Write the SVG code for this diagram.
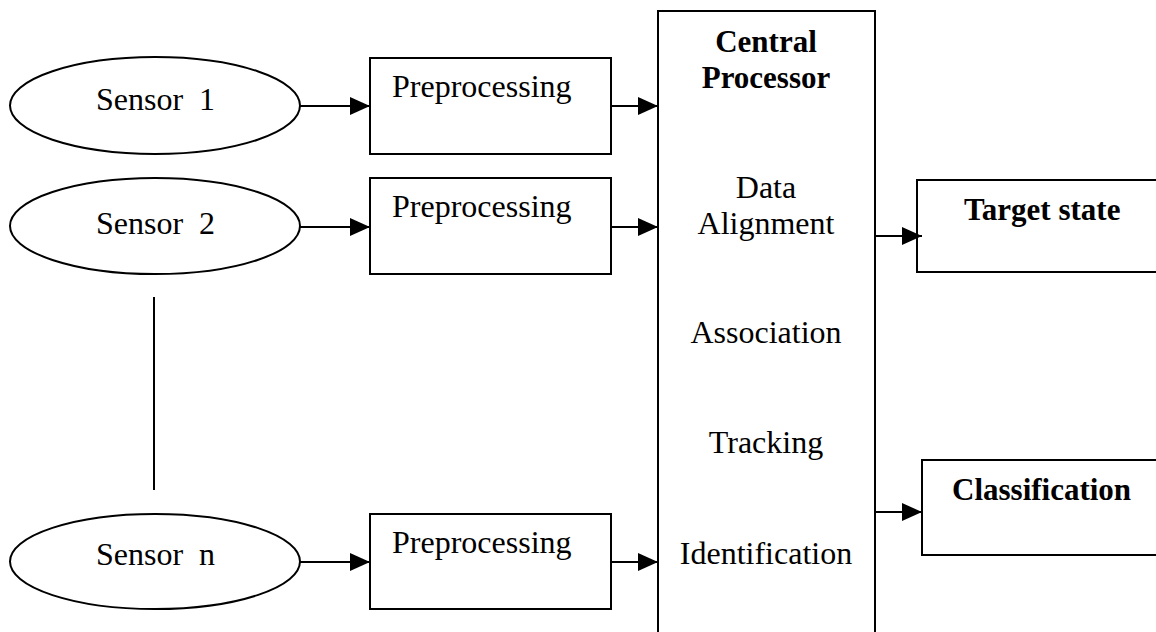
<svg xmlns="http://www.w3.org/2000/svg" width="1156" height="632" viewBox="0 0 1156 632">
  <style>
    .shape { fill: #ffffff; stroke: #000000; stroke-width: 2; }
    .wire { fill: none; stroke: #000000; stroke-width: 2; }
    .lbl { font-family: "Liberation Serif", "Times New Roman", serif; font-size: 32px; fill: #000000; }
    .bold { font-family: "Liberation Serif", "Times New Roman", serif; font-size: 31px; font-weight: bold; fill: #000000; }
    .mid { text-anchor: middle; }
  </style>
  <defs>
    <marker id="arrow" markerWidth="20" markerHeight="18" refX="20" refY="9" orient="auto" markerUnits="userSpaceOnUse">
      <path d="M0,0 L20,9 L0,18 z" fill="#000000"/>
    </marker>
  </defs>
  <rect x="0" y="0" width="1156" height="632" fill="#ffffff"/>

  <!-- sensors -->
  <g id="sensor1">
    <ellipse class="shape" cx="155" cy="105.5" rx="145" ry="48.5"/>
    <text class="lbl" x="96" y="110" xml:space="preserve">Sensor  1</text>
  </g>
  <g id="sensor2">
    <ellipse class="shape" cx="155" cy="226" rx="145" ry="48"/>
    <text class="lbl" x="96" y="234" xml:space="preserve">Sensor  2</text>
  </g>
  <g id="sensorN">
    <ellipse class="shape" cx="155" cy="561.5" rx="145" ry="47.5"/>
    <text class="lbl" x="96" y="565" xml:space="preserve">Sensor  n</text>
  </g>

  <!-- preprocessing stages -->
  <g id="pre1">
    <rect class="shape" x="370" y="58" width="241" height="96"/>
    <text class="lbl" x="392" y="97">Preprocessing</text>
  </g>
  <g id="pre2">
    <rect class="shape" x="370" y="178" width="241" height="96"/>
    <text class="lbl" x="392" y="217">Preprocessing</text>
  </g>
  <g id="preN">
    <rect class="shape" x="370" y="514" width="241" height="95"/>
    <text class="lbl" x="392" y="553">Preprocessing</text>
  </g>

  <!-- central processor, open at the bottom edge -->
  <g id="central">
    <rect class="shape" x="658" y="11" width="217" height="640"/>
    <text class="bold mid" x="766" y="52">Central</text>
    <text class="bold mid" x="766" y="88">Processor</text>
    <text class="lbl mid" x="766" y="198">Data</text>
    <text class="lbl mid" x="766" y="234">Alignment</text>
    <text class="lbl mid" x="766" y="343">Association</text>
    <text class="lbl mid" x="766" y="453">Tracking</text>
    <text class="lbl mid" x="766" y="564">Identification</text>
  </g>

  <!-- outputs -->
  <g id="target">
    <rect class="shape" x="917" y="180" width="260" height="92"/>
    <text class="bold" x="964" y="220">Target state</text>
  </g>
  <g id="classification">
    <rect class="shape" x="922" y="460" width="260" height="95"/>
    <text class="bold" x="952" y="500">Classification</text>
  </g>

  <!-- connectors -->
  <g id="connectors">
    <line class="wire" x1="300" y1="106" x2="370" y2="106" marker-end="url(#arrow)"/>
    <line class="wire" x1="300" y1="227" x2="370" y2="227" marker-end="url(#arrow)"/>
    <line class="wire" x1="300" y1="562" x2="370" y2="562" marker-end="url(#arrow)"/>
    <line class="wire" x1="611" y1="106" x2="658" y2="106" marker-end="url(#arrow)"/>
    <line class="wire" x1="611" y1="227" x2="658" y2="227" marker-end="url(#arrow)"/>
    <line class="wire" x1="611" y1="562" x2="658" y2="562" marker-end="url(#arrow)"/>
    <line class="wire" x1="875" y1="236" x2="922" y2="236" marker-end="url(#arrow)"/>
    <line class="wire" x1="875" y1="512" x2="922" y2="512" marker-end="url(#arrow)"/>
    <line class="wire" x1="154" y1="297" x2="154" y2="490"/>
  </g>
</svg>
